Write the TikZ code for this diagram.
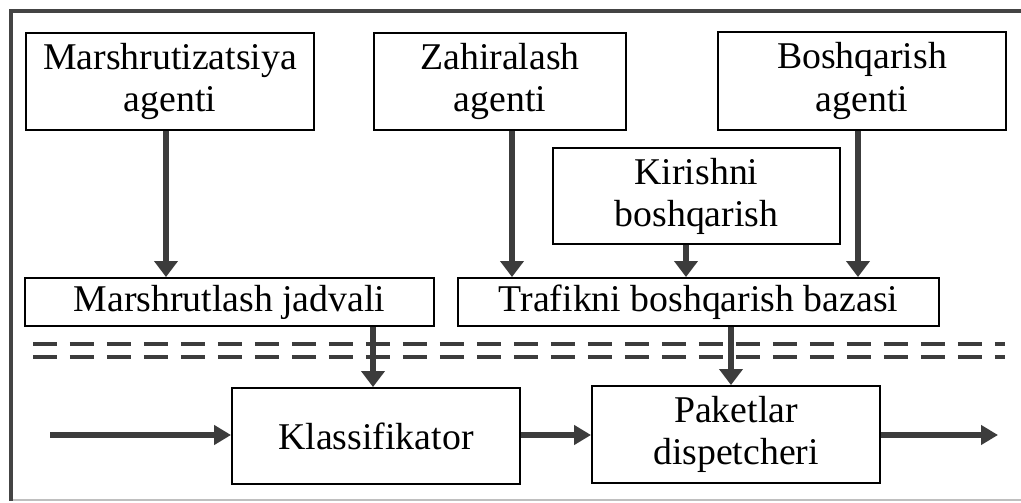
\documentclass[tikz,border=0pt]{standalone}
\usepackage{fontspec}
\setmainfont{Liberation Serif}
\usetikzlibrary{arrows.meta}
\definecolor{ramka}{HTML}{444444}
\definecolor{strel}{HTML}{3C3C3C}
\tikzset{blok/.style={draw=black,line width=1.1pt,fill=white,align=center,inner sep=0pt,
    font=\fontsize{21.5}{24}\selectfont},
  strelka/.style={strel,line width=3.3pt,-{Triangle[length=0.32cm,width=0.46cm]}},
  oqim/.style={strel,line width=2.9pt,-{Triangle[length=0.34cm,width=0.38cm]}},
  shtrix/.style={strel,line width=2.2pt,dash pattern=on 0.48cm off 0.26cm}}

\begin{document}
\begin{tikzpicture}[x=0.02cm,y=-0.02cm]
  \useasboundingbox (0,0) rectangle (1021,503);
  \draw[gray!50,line width=1.6pt] (11,500)--(1021,500);
  \draw[ramka,line width=2pt] (1021,11)--(11,11)--(11,501);
  % agentlar
  \node[blok,minimum width=5.76cm,minimum height=1.94cm] (ma) at (170,81.5) {Marshrutizatsiya\\agenti};
  \node[blok,minimum width=5.04cm,minimum height=1.94cm] (za) at (500,81.5) {Zahiralash\\agenti};
  \node[blok,minimum width=5.76cm,minimum height=1.96cm] (ba) at (862,81) {Boshqarish\\agenti};
  \node[blok,minimum width=5.74cm,minimum height=1.92cm] (kb) at (696.5,196) {Kirishni\\boshqarish};
  % jadvallar
  \node[blok,minimum width=8.18cm,minimum height=0.96cm] (mj) at (229.5,302) {Marshrutlash jadvali};
  \node[blok,minimum width=9.62cm,minimum height=0.96cm] (tb) at (698.5,302) {Trafikni boshqarish bazasi};
  \node[blok,minimum width=5.76cm,minimum height=1.92cm] (kl) at (376,436) {Klassifikator};
  \node[blok,minimum width=5.76cm,minimum height=1.94cm] (pd) at (736,434.5) {Paketlar\\dispetcheri};
  \coordinate (kir) at (50,435);
  \coordinate (chiq) at (998,435);
  % chegaralar
  \draw[shtrix] (33,344)--(1005,344);
  \draw[shtrix] (33,357)--(1005,357);
  \draw[strelka] ([xshift=-0.08cm]ma.south) -- ([xshift=-0.08cm]ma.south |- mj.north);
  \draw[strelka] ([xshift=0.24cm]za.south) -- ([xshift=0.24cm]za.south |- tb.north);
  \draw[strelka] ([xshift=-0.21cm]kb.south) -- ([xshift=-0.21cm]kb.south |- tb.north);
  \draw[strelka] ([xshift=-0.08cm]ba.south) -- ([xshift=-0.08cm]ba.south |- tb.north);
  \draw[strelka] ([xshift=-0.06cm]kl.north |- mj.south) -- ([xshift=-0.06cm]kl.north);
  \draw[strelka] ([xshift=-0.1cm]pd.north |- tb.south) -- ([xshift=-0.1cm]pd.north);
  \draw[oqim] (kir) -- (kir -| kl.west);
  \draw[oqim] (kl.east |- kir) -- (kir -| pd.west);
  \draw[oqim] (pd.east |- chiq) -- (chiq);
\end{tikzpicture}
\end{document}
